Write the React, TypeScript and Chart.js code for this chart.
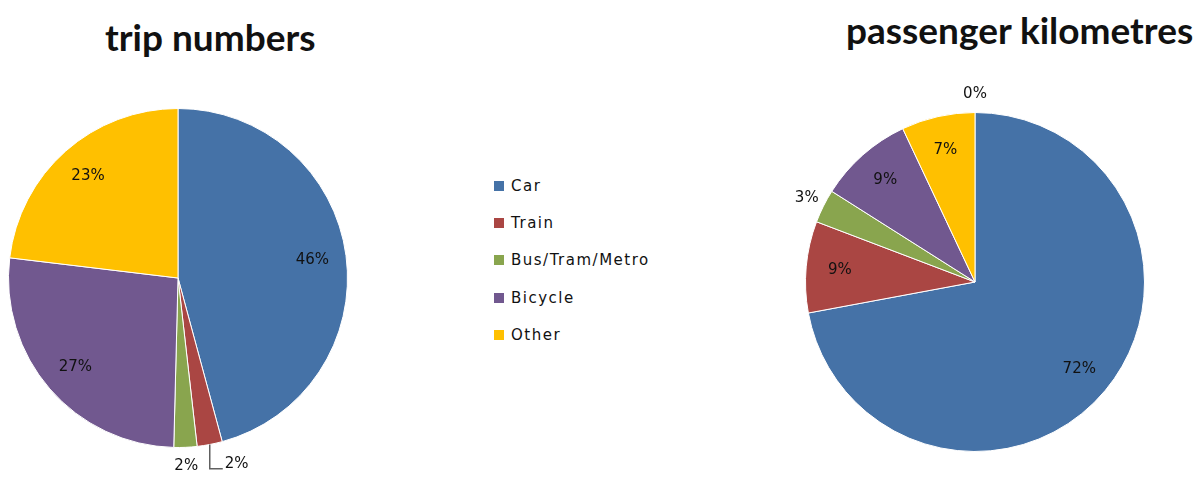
import React, { useEffect, useRef } from "react";
import { Chart, registerables } from "chart.js";

Chart.register(...registerables);

const categories = ["Car", "Train", "Bus/Tram/Metro", "Bicycle", "Other"];
const colors = ["#4572A7", "#AA4643", "#89A54E", "#71588F", "#FFC000"];
const tripShares = [45.8, 2.4, 2.2, 26.5, 23.1];
const pkmCategories = ["Car", "Train", "Bus/Tram/Metro", "Bicycle", "Other", ""];
const pkmShares = [72.0, 8.7, 3.2, 9.0, 7.0, 0];
const titles = ["trip numbers", "passenger kilometres"];

const labelPlugin = {
  id: "pctLabels",
  afterDatasetsDraw(chart: any) {
    const ctx = chart.ctx;
    const meta = chart.getDatasetMeta(0);
    const data: number[] = chart.data.datasets[0].data;
    const total = data.reduce((a, b) => a + b, 0);
    ctx.save();
    ctx.font = '15px "DejaVu Sans"';
    ctx.fillStyle = "#111";
    ctx.textBaseline = "middle";
    const placed: any[] = [];
    const idx = meta.data.map((_: any, i: number) => i).reverse();
    for (const i of idx) {
      const arc = meta.data[i];
      const { x, y, startAngle, endAngle, outerRadius } = arc.getProps(
        ["x", "y", "startAngle", "endAngle", "outerRadius"],
        true
      );
      const mid = (startAngle + endAngle) / 2;
      const frac = data[i] / total;
      const text = Math.round(data[i]) + "%";
      const w = ctx.measureText(text).width;
      if (frac >= 0.05) {
        const r = outerRadius * 0.8;
        ctx.textAlign = "center";
        ctx.fillText(text, x + Math.cos(mid) * r, y + Math.sin(mid) * r);
      } else {
        const r = outerRadius * 1.11;
        const lx = x + Math.cos(mid) * r;
        const ly = y + Math.sin(mid) * r;
        const pad = 10;
        const box = { l: lx - w / 2 - pad, r: lx + w / 2 + pad, t: ly - 9, b: ly + 9 };
        const hit = placed.find(
          (p) => p.l < box.r && box.l < p.r && p.t < box.b && box.t < p.b
        );
        if (hit) {
          const ex = x + Math.cos(mid) * outerRadius;
          const ey = y + Math.sin(mid) * outerRadius;
          const lineY = ly + 6;
          ctx.strokeStyle = "#606060";
          ctx.lineWidth = 1.5;
          ctx.beginPath();
          ctx.moveTo(ex, ey);
          ctx.lineTo(ex, lineY);
          ctx.lineTo(ex + 13, lineY);
          ctx.stroke();
          ctx.textAlign = "left";
          ctx.fillText(text, ex + 15, ly + 1);
          placed.push({ l: ex + 15, r: ex + 15 + w, t: ly - 9, b: ly + 9 });
        } else {
          ctx.textAlign = "center";
          ctx.fillText(text, lx, ly);
          placed.push(box);
        }
      }
    }
    ctx.restore();
  },
};

function PieCanvas(props: {
  labels: string[];
  values: number[];
  width: number;
  height: number;
  padding: { left: number; right: number; top: number; bottom: number };
  style: React.CSSProperties;
}) {
  const ref = useRef<HTMLCanvasElement>(null);
  useEffect(() => {
    const chart = new Chart(ref.current!, {
      type: "pie",
      data: {
        labels: props.labels,
        datasets: [
          {
            data: props.values,
            backgroundColor: props.values.map((_, i) => colors[i % colors.length]),
            borderColor: "#ffffff",
            borderWidth: props.values.map((v) => (v > 0 ? 1 : 0)),
          },
        ],
      },
      options: {
        responsive: false,
        animation: false,
        layout: { padding: props.padding },
        plugins: {
          legend: { display: false },
          tooltip: { enabled: false },
          title: { display: false },
        },
      },
      plugins: [labelPlugin],
    });
    return () => chart.destroy();
  }, []);
  return <canvas ref={ref} width={props.width} height={props.height} style={props.style} />;
}

const titleStyle: React.CSSProperties = {
  position: "absolute",
  fontFamily: "Lato, sans-serif",
  fontWeight: 700,
  fontSize: 37,
  color: "#111",
  whiteSpace: "nowrap",
  lineHeight: "44px",
};

export default function App() {
  return (
    <div
      style={{
        position: "absolute",
        left: 0,
        top: 0,
        width: 1196,
        height: 477,
        background: "#fff",
        overflow: "hidden",
      }}
    >
      <div style={{ ...titleStyle, left: 105, top: 15 }}>{titles[0]}</div>
      <div style={{ ...titleStyle, left: 846, top: 8 }}>{titles[1]}</div>
      <PieCanvas
        labels={categories}
        values={tripShares}
        width={400}
        height={417}
        padding={{ left: 8, right: 52, top: 48, bottom: 29 }}
        style={{ position: "absolute", left: 0, top: 60 }}
      />
      <PieCanvas
        labels={pkmCategories}
        values={pkmShares}
        width={416}
        height={417}
        padding={{ left: 25, right: 51, top: 52, bottom: 25 }}
        style={{ position: "absolute", left: 780, top: 60 }}
      />
      <div style={{ position: "absolute", left: 494, top: 167 }}>
        {categories.map((c, i) => (
          <div
            key={c}
            style={{
              display: "flex",
              alignItems: "center",
              height: 37.3,
              fontFamily: '"DejaVu Sans", sans-serif',
              fontSize: 15,
              letterSpacing: 1.5,
              color: "#111",
            }}
          >
            <span
              style={{
                display: "inline-block",
                width: 10,
                height: 10,
                background: colors[i],
                marginRight: 7,
              }}
            />
            <span>{c}</span>
          </div>
        ))}
      </div>
    </div>
  );
}
